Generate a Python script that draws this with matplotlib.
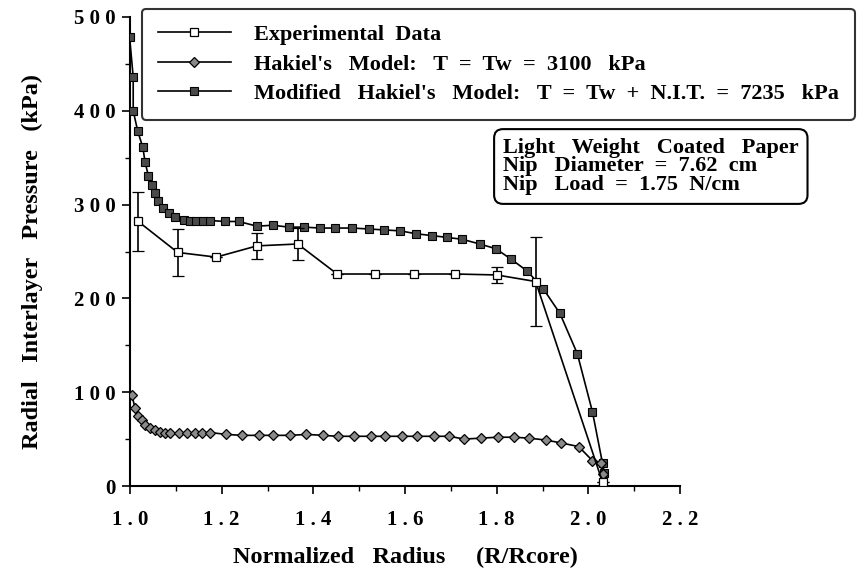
import matplotlib
matplotlib.use("Agg")
import matplotlib.pyplot as plt
import numpy as np

# experimental data (open squares, with error bars)
exp_r = [1.018, 1.104, 1.188, 1.277, 1.366, 1.452, 1.535, 1.620, 1.710, 1.800, 1.885, 2.031]
exp_p = [282, 249, 244, 256, 258, 226, 226, 226, 226, 225, 218, 4]
exp_err = [31, 25, 0, 14, 17, 0, 0, 0, 0, 9, 47, 0]

# Hakiel's model, T = Tw = 3100 kPa
hak_r = [1.004, 1.011, 1.018, 1.026, 1.033, 1.044, 1.055, 1.066, 1.077, 1.088,
         1.106, 1.124, 1.142, 1.157, 1.175, 1.210, 1.244, 1.281, 1.313, 1.350,
         1.385, 1.421, 1.453, 1.488, 1.525, 1.557, 1.594, 1.627, 1.663, 1.697,
         1.729, 1.765, 1.802, 1.838, 1.871, 1.907, 1.940, 1.979, 2.009, 2.027, 2.033]
hak_p = [97, 83, 75, 70, 65, 62, 60, 58, 57, 56,
         56, 56, 57, 57, 57, 55, 54, 54, 54, 54,
         55, 54, 53, 53, 53, 53, 53, 53, 53, 53,
         50, 51, 52, 52, 51, 49, 46, 42, 27, 24, 13]

# modified Hakiel's model, T = Tw + N.I.T. = 7235 kPa
mod_r = [0.999, 1.007, 1.007, 1.017, 1.028, 1.033, 1.040, 1.047, 1.055, 1.062,
         1.073, 1.084, 1.098, 1.117, 1.131, 1.145, 1.160, 1.175, 1.208, 1.237,
         1.277, 1.312, 1.346, 1.379, 1.415, 1.448, 1.485, 1.521, 1.554, 1.590,
         1.623, 1.658, 1.692, 1.725, 1.763, 1.798, 1.831, 1.867, 1.902, 1.938,
         1.976, 2.009, 2.031, 2.035]
mod_p = [479, 436, 400, 378, 361, 345, 331, 321, 312, 304,
         296, 291, 287, 284, 283, 283, 283, 283, 282, 282,
         277, 278, 276, 276, 275, 275, 275, 274, 273, 272,
         269, 267, 265, 263, 258, 253, 242, 229, 210, 184,
         141, 79, 24, 14]

xticks = [1.0, 1.2, 1.4, 1.6, 1.8, 2.0, 2.2]
xtick_labels = ["1 . 0", "1 . 2", "1 . 4", "1 . 6", "1 . 8", "2 . 0", "2 . 2"]
yticks = [0, 100, 200, 300, 400, 500]
ytick_labels = ["0", "1 0 0", "2 0 0", "3 0 0", "4 0 0", "5 0 0"]

plt.rcParams['font.family'] = ['Liberation Serif', 'DejaVu Serif']
plt.rcParams['font.weight'] = 'bold'

fig = plt.figure(figsize=(8.63, 5.75), dpi=100)
ax = fig.add_axes([130/863, 1-486/575, 550/863, 469/575])

mod_line, = ax.plot(mod_r, mod_p, color='black', lw=1.2, marker='s', markersize=6,
                    markerfacecolor='#4a4a4a', markeredgecolor='black', markeredgewidth=0.8,
                    zorder=3)
hak_line, = ax.plot(hak_r, hak_p, color='black', lw=1.2, marker='D', markersize=5,
                    markerfacecolor='#8a8a8a', markeredgecolor='black', markeredgewidth=0.9,
                    zorder=3)
exp_cont = ax.errorbar(exp_r, exp_p, yerr=exp_err, color='black', lw=1.2, marker='s',
                       markersize=6, markerfacecolor='white', markeredgecolor='black',
                       markeredgewidth=0.9, ecolor='black', elinewidth=1.2, capsize=4,
                       capthick=1.2, zorder=4)

ax.set_xlim(1.0, 2.2)
ax.set_ylim(0, 500)
ax.set_xticks(xticks)
ax.set_xticklabels(xtick_labels)
ax.set_yticks(yticks)
ax.set_yticklabels(ytick_labels)
ax.set_xticks(np.arange(1.1, 2.2, 0.2), minor=True)
ax.set_yticks(np.arange(50, 500, 100), minor=True)
ax.tick_params(axis='both', which='major', direction='out', length=6, width=1.2,
               labelsize=15)
ax.tick_params(axis='x', which='major', pad=11)
ax.tick_params(axis='y', which='major', pad=4)
ax.tick_params(axis='both', which='minor', direction='out', length=3.5, width=1)
ax.spines['top'].set_visible(False)
ax.spines['right'].set_visible(False)
ax.spines['left'].set_linewidth(1.5)
ax.spines['bottom'].set_linewidth(1.5)

ax.set_xlabel("Normalized   Radius     (R/Rcore)", fontsize=17.5, fontweight='bold')
ax.set_ylabel("Radial   Interlayer   Pressure   (kPa)", fontsize=17.5, fontweight='bold')
ax.xaxis.set_label_coords(0.5, -0.13)
ax.yaxis.set_label_coords(-0.158, 0.478)

# legend uses the plain line of the errorbar, no caps
leg = fig.legend([exp_cont[0], hak_line, mod_line],
                 ["Experimental  Data",
                  "Hakiel's   Model:   T  =  Tw  =  3100   kPa",
                  "Modified   Hakiel's   Model:   T  =  Tw  +  N.I.T.  =  7235   kPa"],
                 loc='upper left', bbox_to_anchor=(142/863, 1-9/575),
                 bbox_transform=fig.transFigure, fontsize=16, frameon=True,
                 fancybox=True, handlelength=3.3, handletextpad=1.05,
                 labelspacing=0.4, borderpad=0.7, borderaxespad=0)
leg.get_frame().set_edgecolor('black')
leg.get_frame().set_linewidth(1.5)

fig.text(503/863, 1-138/575,
         "Light   Weight   Coated   Paper\nNip   Diameter  =  7.62  cm\nNip   Load  =  1.75  N/cm",
         fontsize=16, fontweight='bold', va='top', ha='left', linespacing=0.9,
         bbox=dict(boxstyle='round,pad=0.4', facecolor='white', edgecolor='black', lw=1.5))

fig.savefig("out.png", dpi=100)
